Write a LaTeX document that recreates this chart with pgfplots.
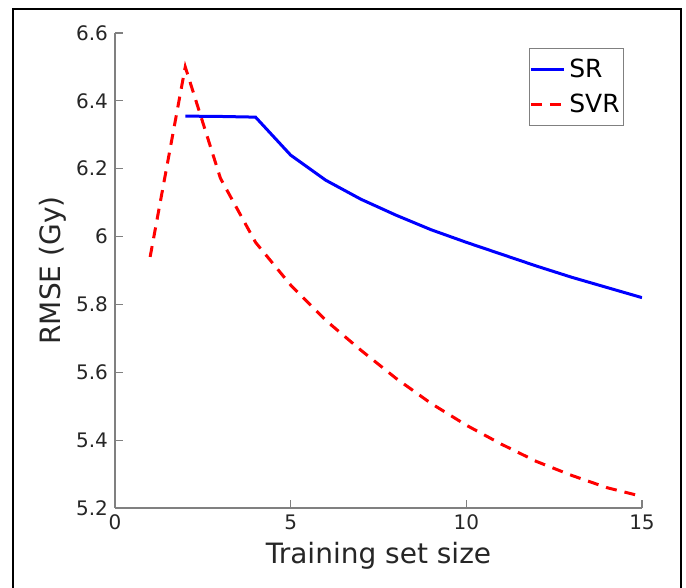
\documentclass[border=0pt]{standalone}
\usepackage{fontspec}
\setmainfont{DejaVu Sans}
\usepackage{pgfplots}
\pgfplotsset{compat=1.18}
\definecolor{axgray}{gray}{0.5}
\definecolor{txtgray}{gray}{0.15}

\begin{document}
\begin{tikzpicture}
\path[use as bounding box] (0,0) rectangle (343pt,294pt);
\draw[line width=1.4pt] (6.5pt,-5pt) -- (6.5pt,289.5pt) -- (340.5pt,289.5pt) -- (340.5pt,-5pt);
\begin{axis}[
    at={(57.5pt,40pt)}, anchor=south west,
    scale only axis,
    width=263.5pt, height=237.5pt,
    xmin=0, xmax=15, ymin=5.2, ymax=6.6,
    xtick={0,5,10,15},
    ytick={5.2,5.4,5.6,5.8,6,6.2,6.4,6.6},
    axis x line*=bottom, axis y line*=left,
    axis line style={axgray, line width=0.6pt},
    tick style={axgray, line width=0.6pt},
    tick align=inside,
    major tick length=4pt,
    ticklabel style={font=\fontsize{10}{12}\selectfont, text=txtgray},
    /pgf/number format/assume math mode=true,
    xlabel={Training set size},
    ylabel={RMSE (Gy)},
    label style={font=\fontsize{14}{16}\selectfont, text=txtgray},
    xlabel style={yshift=1pt},
    ylabel style={yshift=-2pt},
    legend style={at={(0.966,0.968)}, anchor=north east, draw=axgray,
        font=\fontsize{12.5}{14}\selectfont, inner xsep=0pt, inner ysep=3pt,
        row sep=3pt, cells={anchor=west}},
    legend image code/.code={\draw[#1] (0pt,0pt) -- (16.5pt,0pt);},
]
\addplot[blue, line width=1.5pt] coordinates {
    (2,6.355) (3,6.354) (4,6.352) (5,6.240) (6,6.166) (7,6.110) (8,6.063)
    (9,6.020) (10,5.983) (11,5.948) (12,5.913) (13,5.880) (14,5.850) (15,5.820)
};
\addlegendentry{SR}
\addplot[red, line width=1.5pt, dash pattern=on 5.5pt off 4pt] coordinates {
    (1,5.940) (2,6.500) (3,6.172) (4,5.983) (5,5.857) (6,5.753) (7,5.665)
    (8,5.582) (9,5.508) (10,5.444) (11,5.388) (12,5.337) (13,5.296) (14,5.260) (15,5.234)
};
\addlegendentry{SVR}
\end{axis}
\end{tikzpicture}
\end{document}
